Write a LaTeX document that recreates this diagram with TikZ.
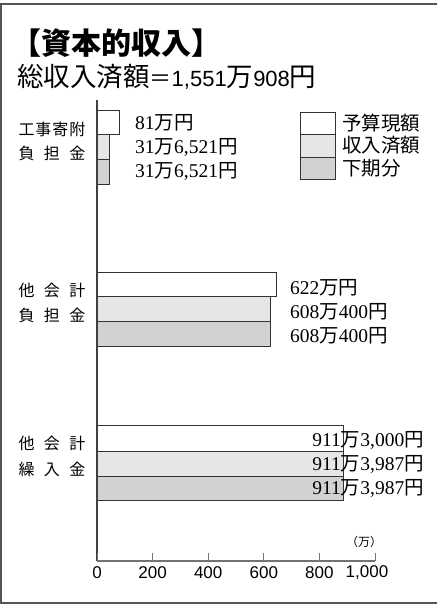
\documentclass[tikz,border=0pt]{standalone}
\usepackage{fontspec}
\setmainfont{Liberation Serif}
\setsansfont{Liberation Sans}
\newfontfamily\jpsans{Noto Sans CJK JP}
\usepackage{tikz}

\newcommand\manj{{\jpsans 万}}
\newcommand\enj{{\jpsans 円}}
\newcommand\spread[1]{\makebox[67pt][s]{#1}}
\newcommand\numsub[1]{{\sffamily\fontsize{22}{22}\selectfont #1}}

\definecolor{lightbar}{HTML}{E6E6E7}
\definecolor{darkbar}{HTML}{D2D2D4}
\definecolor{framegray}{HTML}{555555}

\begin{document}
\begin{tikzpicture}[x=1pt,y=-1pt,
    bar/.style={draw=black!80,line width=0.8pt},
    grouplabel/.style={font=\jpsans\fontsize{16}{16}\selectfont,inner sep=0pt},
    vallabel/.style={font=\fontsize{19.5}{19.5}\selectfont,inner sep=0pt,anchor=west},
    ticklabel/.style={font=\sffamily\fontsize{17}{17}\selectfont,inner sep=0pt}]
    \useasboundingbox (0,0) rectangle (437,608);
    \draw[framegray,line width=1.5pt] (437,4) -- (1,4) -- (1,603) -- (437,603);

    \node[anchor=west,inner sep=0pt,font=\jpsans\bfseries\fontsize{30}{30}\selectfont] (title) at (11,43) {【資本的収入】};
    \node[anchor=west,inner sep=0pt,font=\jpsans\fontsize{26.5}{26.5}\selectfont] (total) at (17,77) {総収入済額{\fontsize{22}{22}\selectfont ＝}\numsub{1,551}万\numsub{908}円};

    \draw[bar,fill=white] (97,110) rectangle (119,134);
    \draw[bar,fill=lightbar] (97,134) rectangle (109,159);
    \draw[bar,fill=darkbar] (97,159) rectangle (109,184);
    \draw[bar,fill=white] (97,272) rectangle (276,296);
    \draw[bar,fill=lightbar] (97,296) rectangle (270,321);
    \draw[bar,fill=darkbar] (97,321) rectangle (270,346);
    \draw[bar,fill=white] (97,425) rectangle (343,451);
    \draw[bar,fill=lightbar] (97,451) rectangle (343,476);
    \draw[bar,fill=darkbar] (97,476) rectangle (343,500);

    \node[grouplabel] (g1a) at (52,129) {\spread{工\hfill 事\hfill 寄\hfill 附}};
    \node[grouplabel] (g1b) at (52,153) {\spread{負\hfill 担\hfill 金}};
    \node[grouplabel] (g2a) at (52,290) {\spread{他\hfill 会\hfill 計}};
    \node[grouplabel] (g2b) at (52,315) {\spread{負\hfill 担\hfill 金}};
    \node[grouplabel] (g3a) at (52,443) {\spread{他\hfill 会\hfill 計}};
    \node[grouplabel] (g3b) at (52,469) {\spread{繰\hfill 入\hfill 金}};

    \node[vallabel] (v1a) at (135,123) {81\manj\enj};
    \node[vallabel] (v1b) at (135,147) {31\manj 6,521\enj};
    \node[vallabel] (v1c) at (135,171) {31\manj 6,521\enj};
    \node[vallabel] (v2a) at (290,288) {622\manj\enj};
    \node[vallabel] (v2b) at (290,312) {608\manj 400\enj};
    \node[vallabel] (v2c) at (290,336) {608\manj 400\enj};
    \node[vallabel,anchor=east] (v3a) at (424,440) {911\manj 3,000\enj};
    \node[vallabel,anchor=east] (v3b) at (424,464) {911\manj 3,987\enj};
    \node[vallabel,anchor=east] (v3c) at (424,488) {911\manj 3,987\enj};

    \draw[bar,fill=white] (300,112) rectangle (335,134);
    \draw[bar,fill=lightbar] (300,134) rectangle (335,157);
    \draw[bar,fill=darkbar] (300,157) rectangle (335,179);
    \node[anchor=west,inner sep=0pt,font=\jpsans\fontsize{19.5}{19.5}\selectfont] (lg1) at (342,123) {予算現額};
    \node[anchor=west,inner sep=0pt,font=\jpsans\fontsize{19.5}{19.5}\selectfont] (lg2) at (342,145.5) {収入済額};
    \node[anchor=west,inner sep=0pt,font=\jpsans\fontsize{19.5}{19.5}\selectfont] (lg3) at (342,168) {下期分};

    \draw[black!75,line width=1.2pt] (97,100) -- (97,561);
    \draw[black!55,line width=1.2pt] (97,561) -- (375,561);
    \foreach \t/\dx [count=\i from 0] in {0/0,200/0,400/0,600/0,800/0,{1,000}/-8} {
      \draw[black!55,line width=1pt] (97+\i*55.6,553) -- (97+\i*55.6,561);
      \node[ticklabel] (tick\i) at (97+\i*55.6+\dx,573) {\t};
    }
    \node[inner sep=0pt,font=\jpsans\fontsize{12}{12}\selectfont] (unit) at (364,542) {（万）};
\end{tikzpicture}
\end{document}
